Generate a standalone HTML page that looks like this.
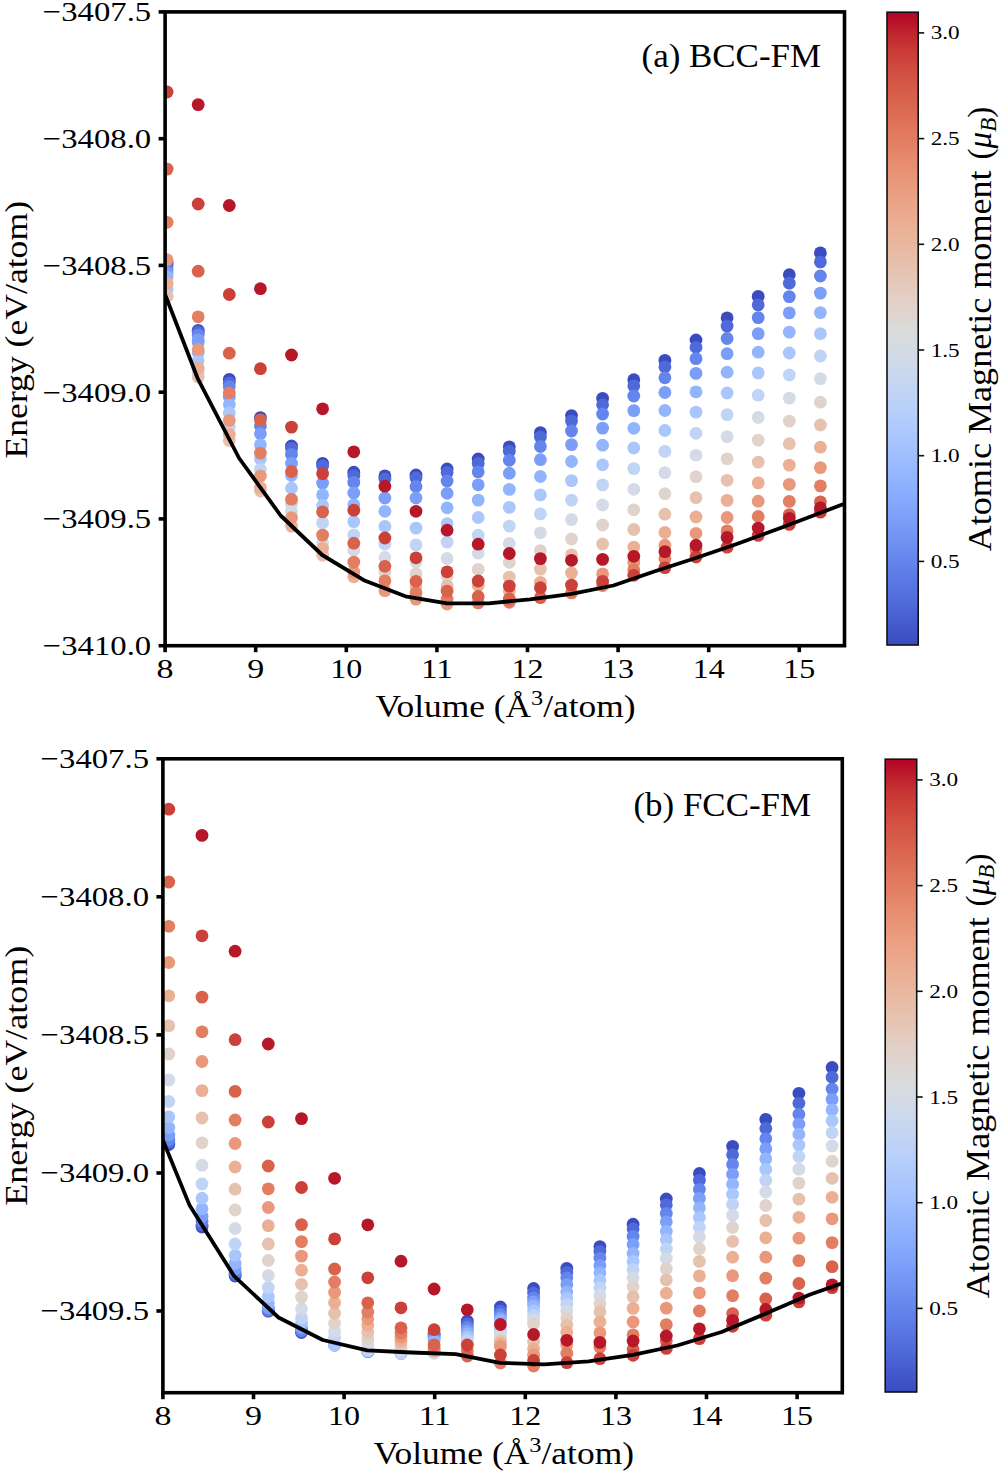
<!DOCTYPE html><html><head><meta charset="utf-8"><style>html,body{margin:0;padding:0;background:#fff;}svg{display:block;}text{font-family:"Liberation Serif", serif;fill:#000;}</style></head><body>
<svg width="1000" height="1472" viewBox="0 0 1000 1472">
<defs><linearGradient id="cw" x1="0" y1="0" x2="0" y2="1"><stop offset="0.0000" stop-color="#b40426"/><stop offset="0.0156" stop-color="#b8122a"/><stop offset="0.0312" stop-color="#be242e"/><stop offset="0.0469" stop-color="#c43032"/><stop offset="0.0625" stop-color="#ca3b37"/><stop offset="0.0781" stop-color="#ce443c"/><stop offset="0.0938" stop-color="#d14d40"/><stop offset="0.1094" stop-color="#d45545"/><stop offset="0.1250" stop-color="#d75c49"/><stop offset="0.1406" stop-color="#d9634e"/><stop offset="0.1562" stop-color="#dc6a53"/><stop offset="0.1719" stop-color="#de7158"/><stop offset="0.1875" stop-color="#e0785d"/><stop offset="0.2031" stop-color="#e27e62"/><stop offset="0.2188" stop-color="#e48468"/><stop offset="0.2344" stop-color="#e68b6e"/><stop offset="0.2500" stop-color="#e89174"/><stop offset="0.2656" stop-color="#e9977a"/><stop offset="0.2812" stop-color="#ea9d7f"/><stop offset="0.2969" stop-color="#eba285"/><stop offset="0.3125" stop-color="#eba78b"/><stop offset="0.3281" stop-color="#ebac91"/><stop offset="0.3438" stop-color="#eab197"/><stop offset="0.3594" stop-color="#e9b59d"/><stop offset="0.3750" stop-color="#e8baa3"/><stop offset="0.3906" stop-color="#e7bea9"/><stop offset="0.4062" stop-color="#e6c2b0"/><stop offset="0.4219" stop-color="#e5c6b7"/><stop offset="0.4375" stop-color="#e4cbbe"/><stop offset="0.4531" stop-color="#e2cfc5"/><stop offset="0.4688" stop-color="#e0d3cb"/><stop offset="0.4844" stop-color="#ddd6d2"/><stop offset="0.5000" stop-color="#dadad9"/><stop offset="0.5156" stop-color="#d8dbdf"/><stop offset="0.5312" stop-color="#d5dbe5"/><stop offset="0.5469" stop-color="#d1dae9"/><stop offset="0.5625" stop-color="#ccd9ed"/><stop offset="0.5781" stop-color="#c7d7f0"/><stop offset="0.5938" stop-color="#c3d5f4"/><stop offset="0.6094" stop-color="#bed2f6"/><stop offset="0.6250" stop-color="#b9d0f9"/><stop offset="0.6406" stop-color="#b3cdfb"/><stop offset="0.6562" stop-color="#aec9fc"/><stop offset="0.6719" stop-color="#a9c6fd"/><stop offset="0.6875" stop-color="#a3c2fe"/><stop offset="0.7031" stop-color="#9ebeff"/><stop offset="0.7188" stop-color="#98b9ff"/><stop offset="0.7344" stop-color="#93b5fe"/><stop offset="0.7500" stop-color="#8db0fe"/><stop offset="0.7656" stop-color="#88abfd"/><stop offset="0.7812" stop-color="#82a6fb"/><stop offset="0.7969" stop-color="#7da0f9"/><stop offset="0.8125" stop-color="#779af7"/><stop offset="0.8281" stop-color="#7295f4"/><stop offset="0.8438" stop-color="#6c8ff1"/><stop offset="0.8594" stop-color="#6788ee"/><stop offset="0.8750" stop-color="#6282ea"/><stop offset="0.8906" stop-color="#5d7ce6"/><stop offset="0.9062" stop-color="#5875e1"/><stop offset="0.9219" stop-color="#536edd"/><stop offset="0.9375" stop-color="#4e68d8"/><stop offset="0.9531" stop-color="#4961d2"/><stop offset="0.9688" stop-color="#445acc"/><stop offset="0.9844" stop-color="#3f53c6"/><stop offset="1.0000" stop-color="#3b4cc0"/></linearGradient></defs>
<rect width="1000" height="1472" fill="#fff"/>
<clipPath id="clipA"><rect x="165.1" y="11.9" width="679.4" height="633.8000000000001"/></clipPath>
<g clip-path="url(#clipA)">
<circle cx="167.1" cy="262.5" r="6.4" fill="#3b4cc0"/>
<circle cx="167.1" cy="265.4" r="6.4" fill="#4f69d9"/>
<circle cx="167.1" cy="269.6" r="6.4" fill="#6485ec"/>
<circle cx="167.1" cy="273.2" r="6.4" fill="#7b9ff9"/>
<circle cx="167.1" cy="276.8" r="6.4" fill="#93b5fe"/>
<circle cx="167.1" cy="289.4" r="6.4" fill="#aac7fd"/>
<circle cx="167.1" cy="296.2" r="6.4" fill="#e5c1ae"/>
<circle cx="167.1" cy="283.4" r="6.4" fill="#ebaf94"/>
<circle cx="167.1" cy="259.7" r="6.4" fill="#e9987b"/>
<circle cx="167.1" cy="222.3" r="6.4" fill="#e27e62"/>
<circle cx="167.1" cy="169.1" r="6.4" fill="#d9624d"/>
<circle cx="167.1" cy="92.0" r="6.4" fill="#cc403a"/>
<circle cx="198.2" cy="330.3" r="6.4" fill="#3b4cc0"/>
<circle cx="198.2" cy="332.0" r="6.4" fill="#4f69d9"/>
<circle cx="198.2" cy="335.0" r="6.4" fill="#6485ec"/>
<circle cx="198.2" cy="339.8" r="6.4" fill="#7b9ff9"/>
<circle cx="198.2" cy="342.2" r="6.4" fill="#7b9ff9"/>
<circle cx="198.2" cy="352.4" r="6.4" fill="#93b5fe"/>
<circle cx="198.2" cy="360.8" r="6.4" fill="#aac7fd"/>
<circle cx="198.2" cy="371.6" r="6.4" fill="#c0d4f5"/>
<circle cx="198.2" cy="377.0" r="6.4" fill="#e5c1ae"/>
<circle cx="198.2" cy="368.3" r="6.4" fill="#ebaf94"/>
<circle cx="198.2" cy="349.5" r="6.4" fill="#e9987b"/>
<circle cx="198.2" cy="316.8" r="6.4" fill="#e27e62"/>
<circle cx="198.2" cy="271.2" r="6.4" fill="#d9624d"/>
<circle cx="198.2" cy="204.0" r="6.4" fill="#cc403a"/>
<circle cx="198.2" cy="104.6" r="6.4" fill="#b6182a"/>
<circle cx="229.3" cy="379.4" r="6.4" fill="#3b4cc0"/>
<circle cx="229.3" cy="383.0" r="6.4" fill="#4f69d9"/>
<circle cx="229.3" cy="386.7" r="6.4" fill="#6485ec"/>
<circle cx="229.3" cy="397.0" r="6.4" fill="#7b9ff9"/>
<circle cx="229.3" cy="404.5" r="6.4" fill="#93b5fe"/>
<circle cx="229.3" cy="413.0" r="6.4" fill="#aac7fd"/>
<circle cx="229.3" cy="427.0" r="6.4" fill="#c0d4f5"/>
<circle cx="229.3" cy="440.5" r="6.4" fill="#e5c1ae"/>
<circle cx="229.3" cy="434.4" r="6.4" fill="#ebaf94"/>
<circle cx="229.3" cy="420.4" r="6.4" fill="#e9987b"/>
<circle cx="229.3" cy="392.8" r="6.4" fill="#e27e62"/>
<circle cx="229.3" cy="353.2" r="6.4" fill="#d9624d"/>
<circle cx="229.3" cy="294.5" r="6.4" fill="#cc403a"/>
<circle cx="229.3" cy="205.5" r="6.4" fill="#b6182a"/>
<circle cx="260.4" cy="417.6" r="6.4" fill="#3b4cc0"/>
<circle cx="260.4" cy="425.9" r="6.4" fill="#6485ec"/>
<circle cx="260.4" cy="433.8" r="6.4" fill="#7b9ff9"/>
<circle cx="260.4" cy="444.8" r="6.4" fill="#93b5fe"/>
<circle cx="260.4" cy="458.9" r="6.4" fill="#aac7fd"/>
<circle cx="260.4" cy="469.3" r="6.4" fill="#c0d4f5"/>
<circle cx="260.4" cy="491.0" r="6.4" fill="#e5c1ae"/>
<circle cx="260.4" cy="487.6" r="6.4" fill="#ebaf94"/>
<circle cx="260.4" cy="476.0" r="6.4" fill="#e9987b"/>
<circle cx="260.4" cy="453.1" r="6.4" fill="#e27e62"/>
<circle cx="260.4" cy="419.9" r="6.4" fill="#d9624d"/>
<circle cx="260.4" cy="368.7" r="6.4" fill="#cc403a"/>
<circle cx="260.4" cy="288.7" r="6.4" fill="#b6182a"/>
<circle cx="291.5" cy="446.0" r="6.4" fill="#3b4cc0"/>
<circle cx="291.5" cy="448.5" r="6.4" fill="#4f69d9"/>
<circle cx="291.5" cy="454.4" r="6.4" fill="#6485ec"/>
<circle cx="291.5" cy="463.3" r="6.4" fill="#7b9ff9"/>
<circle cx="291.5" cy="475.5" r="6.4" fill="#93b5fe"/>
<circle cx="291.5" cy="488.2" r="6.4" fill="#aac7fd"/>
<circle cx="291.5" cy="503.5" r="6.4" fill="#c0d4f5"/>
<circle cx="291.5" cy="511.4" r="6.4" fill="#d4dbe6"/>
<circle cx="291.5" cy="526.1" r="6.4" fill="#ebaf94"/>
<circle cx="291.5" cy="517.6" r="6.4" fill="#e9987b"/>
<circle cx="291.5" cy="499.2" r="6.4" fill="#e27e62"/>
<circle cx="291.5" cy="471.5" r="6.4" fill="#d9624d"/>
<circle cx="291.5" cy="427.1" r="6.4" fill="#cc403a"/>
<circle cx="291.5" cy="355.0" r="6.4" fill="#b6182a"/>
<circle cx="322.6" cy="463.4" r="6.4" fill="#3b4cc0"/>
<circle cx="322.6" cy="466.0" r="6.4" fill="#4f69d9"/>
<circle cx="322.6" cy="483.1" r="6.4" fill="#7b9ff9"/>
<circle cx="322.6" cy="494.9" r="6.4" fill="#93b5fe"/>
<circle cx="322.6" cy="505.5" r="6.4" fill="#aac7fd"/>
<circle cx="322.6" cy="522.9" r="6.4" fill="#c0d4f5"/>
<circle cx="322.6" cy="542.9" r="6.4" fill="#d4dbe6"/>
<circle cx="322.6" cy="555.1" r="6.4" fill="#e5c1ae"/>
<circle cx="322.6" cy="548.3" r="6.4" fill="#ebaf94"/>
<circle cx="322.6" cy="535.1" r="6.4" fill="#e27e62"/>
<circle cx="322.6" cy="511.9" r="6.4" fill="#d9624d"/>
<circle cx="322.6" cy="473.6" r="6.4" fill="#cc403a"/>
<circle cx="322.6" cy="408.8" r="6.4" fill="#b6182a"/>
<circle cx="353.8" cy="472.2" r="6.4" fill="#3b4cc0"/>
<circle cx="353.8" cy="475.6" r="6.4" fill="#4f69d9"/>
<circle cx="353.8" cy="482.4" r="6.4" fill="#6485ec"/>
<circle cx="353.8" cy="493.0" r="6.4" fill="#7b9ff9"/>
<circle cx="353.8" cy="504.8" r="6.4" fill="#93b5fe"/>
<circle cx="353.8" cy="521.6" r="6.4" fill="#aac7fd"/>
<circle cx="353.8" cy="535.0" r="6.4" fill="#c0d4f5"/>
<circle cx="353.8" cy="550.2" r="6.4" fill="#d4dbe6"/>
<circle cx="353.8" cy="576.8" r="6.4" fill="#ebaf94"/>
<circle cx="353.8" cy="572.0" r="6.4" fill="#e9987b"/>
<circle cx="353.8" cy="562.1" r="6.4" fill="#e27e62"/>
<circle cx="353.8" cy="543.2" r="6.4" fill="#d9624d"/>
<circle cx="353.8" cy="510.2" r="6.4" fill="#cc403a"/>
<circle cx="353.8" cy="451.8" r="6.4" fill="#b6182a"/>
<circle cx="384.9" cy="475.9" r="6.4" fill="#3b4cc0"/>
<circle cx="384.9" cy="479.0" r="6.4" fill="#4f69d9"/>
<circle cx="384.9" cy="498.0" r="6.4" fill="#7b9ff9"/>
<circle cx="384.9" cy="511.3" r="6.4" fill="#93b5fe"/>
<circle cx="384.9" cy="526.4" r="6.4" fill="#aac7fd"/>
<circle cx="384.9" cy="544.0" r="6.4" fill="#c0d4f5"/>
<circle cx="384.9" cy="557.5" r="6.4" fill="#d4dbe6"/>
<circle cx="384.9" cy="572.0" r="6.4" fill="#e0d3cb"/>
<circle cx="384.9" cy="590.7" r="6.4" fill="#e9987b"/>
<circle cx="384.9" cy="580.9" r="6.4" fill="#e27e62"/>
<circle cx="384.9" cy="566.3" r="6.4" fill="#d9624d"/>
<circle cx="384.9" cy="538.0" r="6.4" fill="#cc403a"/>
<circle cx="384.9" cy="486.2" r="6.4" fill="#b6182a"/>
<circle cx="416.0" cy="475.0" r="6.4" fill="#3b4cc0"/>
<circle cx="416.0" cy="478.0" r="6.4" fill="#4f69d9"/>
<circle cx="416.0" cy="486.5" r="6.4" fill="#6485ec"/>
<circle cx="416.0" cy="498.0" r="6.4" fill="#7b9ff9"/>
<circle cx="416.0" cy="528.1" r="6.4" fill="#aac7fd"/>
<circle cx="416.0" cy="544.9" r="6.4" fill="#c0d4f5"/>
<circle cx="416.0" cy="562.0" r="6.4" fill="#d4dbe6"/>
<circle cx="416.0" cy="573.9" r="6.4" fill="#e0d3cb"/>
<circle cx="416.0" cy="587.2" r="6.4" fill="#e5c1ae"/>
<circle cx="416.0" cy="599.1" r="6.4" fill="#e9987b"/>
<circle cx="416.0" cy="592.8" r="6.4" fill="#e27e62"/>
<circle cx="416.0" cy="581.3" r="6.4" fill="#d9624d"/>
<circle cx="416.0" cy="557.8" r="6.4" fill="#cc403a"/>
<circle cx="416.0" cy="511.3" r="6.4" fill="#b6182a"/>
<circle cx="447.1" cy="469.0" r="6.4" fill="#3b4cc0"/>
<circle cx="447.1" cy="472.5" r="6.4" fill="#4f69d9"/>
<circle cx="447.1" cy="481.0" r="6.4" fill="#6485ec"/>
<circle cx="447.1" cy="493.3" r="6.4" fill="#7b9ff9"/>
<circle cx="447.1" cy="507.8" r="6.4" fill="#93b5fe"/>
<circle cx="447.1" cy="523.6" r="6.4" fill="#aac7fd"/>
<circle cx="447.1" cy="542.1" r="6.4" fill="#c0d4f5"/>
<circle cx="447.1" cy="558.5" r="6.4" fill="#d4dbe6"/>
<circle cx="447.1" cy="576.0" r="6.4" fill="#e0d3cb"/>
<circle cx="447.1" cy="585.8" r="6.4" fill="#e5c1ae"/>
<circle cx="447.1" cy="604.0" r="6.4" fill="#e9987b"/>
<circle cx="447.1" cy="599.1" r="6.4" fill="#e27e62"/>
<circle cx="447.1" cy="591.1" r="6.4" fill="#d9624d"/>
<circle cx="447.1" cy="571.8" r="6.4" fill="#cc403a"/>
<circle cx="447.1" cy="530.2" r="6.4" fill="#b6182a"/>
<circle cx="478.2" cy="459.0" r="6.4" fill="#3b4cc0"/>
<circle cx="478.2" cy="463.5" r="6.4" fill="#4f69d9"/>
<circle cx="478.2" cy="471.9" r="6.4" fill="#6485ec"/>
<circle cx="478.2" cy="484.8" r="6.4" fill="#7b9ff9"/>
<circle cx="478.2" cy="500.1" r="6.4" fill="#93b5fe"/>
<circle cx="478.2" cy="517.5" r="6.4" fill="#aac7fd"/>
<circle cx="478.2" cy="535.2" r="6.4" fill="#c0d4f5"/>
<circle cx="478.2" cy="553.2" r="6.4" fill="#d4dbe6"/>
<circle cx="478.2" cy="569.4" r="6.4" fill="#e0d3cb"/>
<circle cx="478.2" cy="585.5" r="6.4" fill="#ebaf94"/>
<circle cx="478.2" cy="602.9" r="6.4" fill="#e27e62"/>
<circle cx="478.2" cy="596.5" r="6.4" fill="#d9624d"/>
<circle cx="478.2" cy="581.0" r="6.4" fill="#cc403a"/>
<circle cx="478.2" cy="544.2" r="6.4" fill="#b6182a"/>
<circle cx="509.3" cy="446.8" r="6.4" fill="#3b4cc0"/>
<circle cx="509.3" cy="451.3" r="6.4" fill="#4f69d9"/>
<circle cx="509.3" cy="460.3" r="6.4" fill="#6485ec"/>
<circle cx="509.3" cy="473.2" r="6.4" fill="#7b9ff9"/>
<circle cx="509.3" cy="489.4" r="6.4" fill="#93b5fe"/>
<circle cx="509.3" cy="507.4" r="6.4" fill="#aac7fd"/>
<circle cx="509.3" cy="526.1" r="6.4" fill="#c0d4f5"/>
<circle cx="509.3" cy="543.5" r="6.4" fill="#d4dbe6"/>
<circle cx="509.3" cy="562.3" r="6.4" fill="#e0d3cb"/>
<circle cx="509.3" cy="577.1" r="6.4" fill="#e5c1ae"/>
<circle cx="509.3" cy="591.3" r="6.4" fill="#ebaf94"/>
<circle cx="509.3" cy="602.3" r="6.4" fill="#e27e62"/>
<circle cx="509.3" cy="599.0" r="6.4" fill="#d9624d"/>
<circle cx="509.3" cy="586.1" r="6.4" fill="#cc403a"/>
<circle cx="509.3" cy="553.5" r="6.4" fill="#b6182a"/>
<circle cx="540.4" cy="432.6" r="6.4" fill="#3b4cc0"/>
<circle cx="540.4" cy="437.1" r="6.4" fill="#4f69d9"/>
<circle cx="540.4" cy="446.5" r="6.4" fill="#6485ec"/>
<circle cx="540.4" cy="459.7" r="6.4" fill="#7b9ff9"/>
<circle cx="540.4" cy="476.5" r="6.4" fill="#93b5fe"/>
<circle cx="540.4" cy="494.9" r="6.4" fill="#aac7fd"/>
<circle cx="540.4" cy="513.9" r="6.4" fill="#c0d4f5"/>
<circle cx="540.4" cy="532.8" r="6.4" fill="#d4dbe6"/>
<circle cx="540.4" cy="550.6" r="6.4" fill="#e0d3cb"/>
<circle cx="540.4" cy="569.1" r="6.4" fill="#e5c1ae"/>
<circle cx="540.4" cy="582.3" r="6.4" fill="#ebaf94"/>
<circle cx="540.4" cy="597.7" r="6.4" fill="#d9624d"/>
<circle cx="540.4" cy="587.7" r="6.4" fill="#cc403a"/>
<circle cx="540.4" cy="558.6" r="6.4" fill="#b6182a"/>
<circle cx="571.5" cy="415.6" r="6.4" fill="#3b4cc0"/>
<circle cx="571.5" cy="421.1" r="6.4" fill="#4f69d9"/>
<circle cx="571.5" cy="431.0" r="6.4" fill="#6485ec"/>
<circle cx="571.5" cy="444.6" r="6.4" fill="#7b9ff9"/>
<circle cx="571.5" cy="461.5" r="6.4" fill="#93b5fe"/>
<circle cx="571.5" cy="480.6" r="6.4" fill="#aac7fd"/>
<circle cx="571.5" cy="500.1" r="6.4" fill="#c0d4f5"/>
<circle cx="571.5" cy="519.6" r="6.4" fill="#d4dbe6"/>
<circle cx="571.5" cy="539.0" r="6.4" fill="#e0d3cb"/>
<circle cx="571.5" cy="554.9" r="6.4" fill="#e5c1ae"/>
<circle cx="571.5" cy="573.0" r="6.4" fill="#ebaf94"/>
<circle cx="571.5" cy="592.9" r="6.4" fill="#e27e62"/>
<circle cx="571.5" cy="585.1" r="6.4" fill="#cc403a"/>
<circle cx="571.5" cy="560.3" r="6.4" fill="#b6182a"/>
<circle cx="602.6" cy="398.4" r="6.4" fill="#3b4cc0"/>
<circle cx="602.6" cy="404.8" r="6.4" fill="#4f69d9"/>
<circle cx="602.6" cy="414.0" r="6.4" fill="#6485ec"/>
<circle cx="602.6" cy="428.1" r="6.4" fill="#7b9ff9"/>
<circle cx="602.6" cy="445.2" r="6.4" fill="#93b5fe"/>
<circle cx="602.6" cy="464.8" r="6.4" fill="#aac7fd"/>
<circle cx="602.6" cy="484.9" r="6.4" fill="#c0d4f5"/>
<circle cx="602.6" cy="505.0" r="6.4" fill="#d4dbe6"/>
<circle cx="602.6" cy="525.0" r="6.4" fill="#e0d3cb"/>
<circle cx="602.6" cy="544.0" r="6.4" fill="#e5c1ae"/>
<circle cx="602.6" cy="573.9" r="6.4" fill="#e9987b"/>
<circle cx="602.6" cy="585.5" r="6.4" fill="#e27e62"/>
<circle cx="602.6" cy="581.4" r="6.4" fill="#cc403a"/>
<circle cx="602.6" cy="559.4" r="6.4" fill="#b6182a"/>
<circle cx="633.8" cy="379.7" r="6.4" fill="#3b4cc0"/>
<circle cx="633.8" cy="385.9" r="6.4" fill="#4f69d9"/>
<circle cx="633.8" cy="396.0" r="6.4" fill="#6485ec"/>
<circle cx="633.8" cy="410.6" r="6.4" fill="#7b9ff9"/>
<circle cx="633.8" cy="428.3" r="6.4" fill="#93b5fe"/>
<circle cx="633.8" cy="448.0" r="6.4" fill="#aac7fd"/>
<circle cx="633.8" cy="468.6" r="6.4" fill="#c0d4f5"/>
<circle cx="633.8" cy="489.3" r="6.4" fill="#d4dbe6"/>
<circle cx="633.8" cy="509.8" r="6.4" fill="#e0d3cb"/>
<circle cx="633.8" cy="529.5" r="6.4" fill="#e5c1ae"/>
<circle cx="633.8" cy="547.1" r="6.4" fill="#ebaf94"/>
<circle cx="633.8" cy="562.4" r="6.4" fill="#e9987b"/>
<circle cx="633.8" cy="569.8" r="6.4" fill="#e27e62"/>
<circle cx="633.8" cy="575.3" r="6.4" fill="#cc403a"/>
<circle cx="633.8" cy="556.3" r="6.4" fill="#b6182a"/>
<circle cx="664.9" cy="360.4" r="6.4" fill="#3b4cc0"/>
<circle cx="664.9" cy="366.9" r="6.4" fill="#4f69d9"/>
<circle cx="664.9" cy="377.8" r="6.4" fill="#6485ec"/>
<circle cx="664.9" cy="392.5" r="6.4" fill="#7b9ff9"/>
<circle cx="664.9" cy="410.5" r="6.4" fill="#93b5fe"/>
<circle cx="664.9" cy="430.5" r="6.4" fill="#aac7fd"/>
<circle cx="664.9" cy="451.4" r="6.4" fill="#c0d4f5"/>
<circle cx="664.9" cy="472.6" r="6.4" fill="#d4dbe6"/>
<circle cx="664.9" cy="493.7" r="6.4" fill="#e0d3cb"/>
<circle cx="664.9" cy="514.2" r="6.4" fill="#e5c1ae"/>
<circle cx="664.9" cy="532.5" r="6.4" fill="#ebaf94"/>
<circle cx="664.9" cy="545.2" r="6.4" fill="#e9987b"/>
<circle cx="664.9" cy="558.6" r="6.4" fill="#e27e62"/>
<circle cx="664.9" cy="567.6" r="6.4" fill="#cc403a"/>
<circle cx="664.9" cy="551.6" r="6.4" fill="#b6182a"/>
<circle cx="696.0" cy="340.0" r="6.4" fill="#3b4cc0"/>
<circle cx="696.0" cy="347.3" r="6.4" fill="#4f69d9"/>
<circle cx="696.0" cy="358.6" r="6.4" fill="#6485ec"/>
<circle cx="696.0" cy="373.4" r="6.4" fill="#7b9ff9"/>
<circle cx="696.0" cy="391.9" r="6.4" fill="#93b5fe"/>
<circle cx="696.0" cy="412.1" r="6.4" fill="#aac7fd"/>
<circle cx="696.0" cy="433.3" r="6.4" fill="#c0d4f5"/>
<circle cx="696.0" cy="455.3" r="6.4" fill="#d4dbe6"/>
<circle cx="696.0" cy="476.7" r="6.4" fill="#e0d3cb"/>
<circle cx="696.0" cy="497.7" r="6.4" fill="#e5c1ae"/>
<circle cx="696.0" cy="517.0" r="6.4" fill="#ebaf94"/>
<circle cx="696.0" cy="533.3" r="6.4" fill="#e9987b"/>
<circle cx="696.0" cy="550.0" r="6.4" fill="#e27e62"/>
<circle cx="696.0" cy="557.0" r="6.4" fill="#cc403a"/>
<circle cx="696.0" cy="545.2" r="6.4" fill="#b6182a"/>
<circle cx="727.1" cy="317.9" r="6.4" fill="#3b4cc0"/>
<circle cx="727.1" cy="326.1" r="6.4" fill="#4f69d9"/>
<circle cx="727.1" cy="338.5" r="6.4" fill="#6485ec"/>
<circle cx="727.1" cy="353.7" r="6.4" fill="#7b9ff9"/>
<circle cx="727.1" cy="372.2" r="6.4" fill="#93b5fe"/>
<circle cx="727.1" cy="393.0" r="6.4" fill="#aac7fd"/>
<circle cx="727.1" cy="414.6" r="6.4" fill="#c0d4f5"/>
<circle cx="727.1" cy="436.7" r="6.4" fill="#d4dbe6"/>
<circle cx="727.1" cy="458.8" r="6.4" fill="#e0d3cb"/>
<circle cx="727.1" cy="480.3" r="6.4" fill="#e5c1ae"/>
<circle cx="727.1" cy="500.4" r="6.4" fill="#ebaf94"/>
<circle cx="727.1" cy="517.5" r="6.4" fill="#e9987b"/>
<circle cx="727.1" cy="530.9" r="6.4" fill="#e27e62"/>
<circle cx="727.1" cy="547.2" r="6.4" fill="#cc403a"/>
<circle cx="727.1" cy="537.4" r="6.4" fill="#b6182a"/>
<circle cx="758.2" cy="296.4" r="6.4" fill="#3b4cc0"/>
<circle cx="758.2" cy="304.9" r="6.4" fill="#4f69d9"/>
<circle cx="758.2" cy="317.6" r="6.4" fill="#6485ec"/>
<circle cx="758.2" cy="333.6" r="6.4" fill="#7b9ff9"/>
<circle cx="758.2" cy="352.2" r="6.4" fill="#93b5fe"/>
<circle cx="758.2" cy="372.9" r="6.4" fill="#aac7fd"/>
<circle cx="758.2" cy="395.2" r="6.4" fill="#c0d4f5"/>
<circle cx="758.2" cy="417.5" r="6.4" fill="#d4dbe6"/>
<circle cx="758.2" cy="440.1" r="6.4" fill="#e0d3cb"/>
<circle cx="758.2" cy="462.1" r="6.4" fill="#e5c1ae"/>
<circle cx="758.2" cy="482.9" r="6.4" fill="#ebaf94"/>
<circle cx="758.2" cy="501.2" r="6.4" fill="#e9987b"/>
<circle cx="758.2" cy="516.5" r="6.4" fill="#e27e62"/>
<circle cx="758.2" cy="535.4" r="6.4" fill="#cc403a"/>
<circle cx="758.2" cy="528.1" r="6.4" fill="#b6182a"/>
<circle cx="789.3" cy="274.7" r="6.4" fill="#3b4cc0"/>
<circle cx="789.3" cy="283.2" r="6.4" fill="#4f69d9"/>
<circle cx="789.3" cy="296.6" r="6.4" fill="#6485ec"/>
<circle cx="789.3" cy="312.9" r="6.4" fill="#7b9ff9"/>
<circle cx="789.3" cy="332.1" r="6.4" fill="#93b5fe"/>
<circle cx="789.3" cy="353.0" r="6.4" fill="#aac7fd"/>
<circle cx="789.3" cy="375.0" r="6.4" fill="#c0d4f5"/>
<circle cx="789.3" cy="398.1" r="6.4" fill="#d4dbe6"/>
<circle cx="789.3" cy="421.1" r="6.4" fill="#e0d3cb"/>
<circle cx="789.3" cy="443.7" r="6.4" fill="#e5c1ae"/>
<circle cx="789.3" cy="465.1" r="6.4" fill="#ebaf94"/>
<circle cx="789.3" cy="484.4" r="6.4" fill="#e9987b"/>
<circle cx="789.3" cy="501.4" r="6.4" fill="#e27e62"/>
<circle cx="789.3" cy="514.6" r="6.4" fill="#d9624d"/>
<circle cx="789.3" cy="524.4" r="6.4" fill="#cc403a"/>
<circle cx="789.3" cy="518.3" r="6.4" fill="#b6182a"/>
<circle cx="820.4" cy="252.9" r="6.4" fill="#3b4cc0"/>
<circle cx="820.4" cy="261.9" r="6.4" fill="#4f69d9"/>
<circle cx="820.4" cy="276.0" r="6.4" fill="#6485ec"/>
<circle cx="820.4" cy="293.1" r="6.4" fill="#7b9ff9"/>
<circle cx="820.4" cy="312.6" r="6.4" fill="#93b5fe"/>
<circle cx="820.4" cy="333.7" r="6.4" fill="#aac7fd"/>
<circle cx="820.4" cy="356.0" r="6.4" fill="#c0d4f5"/>
<circle cx="820.4" cy="378.6" r="6.4" fill="#d4dbe6"/>
<circle cx="820.4" cy="402.2" r="6.4" fill="#e0d3cb"/>
<circle cx="820.4" cy="425.0" r="6.4" fill="#e5c1ae"/>
<circle cx="820.4" cy="447.2" r="6.4" fill="#ebaf94"/>
<circle cx="820.4" cy="467.6" r="6.4" fill="#e9987b"/>
<circle cx="820.4" cy="485.9" r="6.4" fill="#e27e62"/>
<circle cx="820.4" cy="501.8" r="6.4" fill="#d9624d"/>
<circle cx="820.4" cy="512.2" r="6.4" fill="#cc403a"/>
<circle cx="820.4" cy="507.9" r="6.4" fill="#b6182a"/>
<polyline points="155.9,270.8 197.4,377.8 239.0,458.0 280.6,515.5 322.2,555.0 363.8,580.2 405.4,596.3 447.0,603.3 488.6,603.3 530.2,599.3 571.8,593.8 613.4,585.5 655.0,571.3 696.6,557.8 738.2,543.5 779.8,528.3 821.4,512.5 863.0,496.5" fill="none" stroke="#000" stroke-width="3.8" stroke-linejoin="round" stroke-linecap="butt"/>
</g>
<rect x="165.1" y="11.9" width="679.4" height="633.8000000000001" fill="none" stroke="#000" stroke-width="3.6" stroke-linejoin="miter"/>
<line x1="158.6" y1="11.9" x2="165.1" y2="11.9" stroke="#000" stroke-width="3.6"/>
<text x="151.2" y="21.2" font-size="27.8" text-anchor="end" textLength="108.4" lengthAdjust="spacingAndGlyphs">−3407.5</text>
<line x1="158.6" y1="138.7" x2="165.1" y2="138.7" stroke="#000" stroke-width="3.6"/>
<text x="151.2" y="148.0" font-size="27.8" text-anchor="end" textLength="108.4" lengthAdjust="spacingAndGlyphs">−3408.0</text>
<line x1="158.6" y1="265.4" x2="165.1" y2="265.4" stroke="#000" stroke-width="3.6"/>
<text x="151.2" y="274.7" font-size="27.8" text-anchor="end" textLength="108.4" lengthAdjust="spacingAndGlyphs">−3408.5</text>
<line x1="158.6" y1="392.2" x2="165.1" y2="392.2" stroke="#000" stroke-width="3.6"/>
<text x="151.2" y="401.5" font-size="27.8" text-anchor="end" textLength="108.4" lengthAdjust="spacingAndGlyphs">−3409.0</text>
<line x1="158.6" y1="518.9" x2="165.1" y2="518.9" stroke="#000" stroke-width="3.6"/>
<text x="151.2" y="528.2" font-size="27.8" text-anchor="end" textLength="108.4" lengthAdjust="spacingAndGlyphs">−3409.5</text>
<line x1="158.6" y1="645.7" x2="165.1" y2="645.7" stroke="#000" stroke-width="3.6"/>
<text x="151.2" y="655.0" font-size="27.8" text-anchor="end" textLength="108.4" lengthAdjust="spacingAndGlyphs">−3410.0</text>
<line x1="165.1" y1="645.7" x2="165.1" y2="652.2" stroke="#000" stroke-width="3.6"/>
<text x="165.1" y="677.7" font-size="27.8" text-anchor="middle" textLength="17" lengthAdjust="spacingAndGlyphs">8</text>
<line x1="255.7" y1="645.7" x2="255.7" y2="652.2" stroke="#000" stroke-width="3.6"/>
<text x="255.7" y="677.7" font-size="27.8" text-anchor="middle" textLength="17" lengthAdjust="spacingAndGlyphs">9</text>
<line x1="346.3" y1="645.7" x2="346.3" y2="652.2" stroke="#000" stroke-width="3.6"/>
<text x="346.3" y="677.7" font-size="27.8" text-anchor="middle" textLength="32" lengthAdjust="spacingAndGlyphs">10</text>
<line x1="436.9" y1="645.7" x2="436.9" y2="652.2" stroke="#000" stroke-width="3.6"/>
<text x="436.9" y="677.7" font-size="27.8" text-anchor="middle" textLength="32" lengthAdjust="spacingAndGlyphs">11</text>
<line x1="527.5" y1="645.7" x2="527.5" y2="652.2" stroke="#000" stroke-width="3.6"/>
<text x="527.5" y="677.7" font-size="27.8" text-anchor="middle" textLength="32" lengthAdjust="spacingAndGlyphs">12</text>
<line x1="618.1" y1="645.7" x2="618.1" y2="652.2" stroke="#000" stroke-width="3.6"/>
<text x="618.1" y="677.7" font-size="27.8" text-anchor="middle" textLength="32" lengthAdjust="spacingAndGlyphs">13</text>
<line x1="708.7" y1="645.7" x2="708.7" y2="652.2" stroke="#000" stroke-width="3.6"/>
<text x="708.7" y="677.7" font-size="27.8" text-anchor="middle" textLength="32" lengthAdjust="spacingAndGlyphs">14</text>
<line x1="799.3" y1="645.7" x2="799.3" y2="652.2" stroke="#000" stroke-width="3.6"/>
<text x="799.3" y="677.7" font-size="27.8" text-anchor="middle" textLength="32" lengthAdjust="spacingAndGlyphs">15</text>
<text x="375.5" y="716.7" font-size="32" textLength="260.0" lengthAdjust="spacingAndGlyphs">Volume (Å<tspan font-size="22" dy="-12">3</tspan><tspan dy="12">/atom)</tspan></text>
<text transform="translate(26.9,458.5) rotate(-90)" x="0" y="0" font-size="32" textLength="257.5" lengthAdjust="spacingAndGlyphs">Energy (eV/atom)</text>
<text x="641.5" y="66.6" font-size="34.5" textLength="179.5" lengthAdjust="spacingAndGlyphs">(a) BCC-FM</text>
<rect x="887.0" y="12.2" width="31.200000000000045" height="632.8" fill="url(#cw)" stroke="#111" stroke-width="1.6"/>
<line x1="918.2" y1="32.9" x2="924.2" y2="32.9" stroke="#111" stroke-width="1.6"/>
<text x="930.7" y="39.4" font-size="19.4" textLength="29" lengthAdjust="spacingAndGlyphs">3.0</text>
<line x1="918.2" y1="138.6" x2="924.2" y2="138.6" stroke="#111" stroke-width="1.6"/>
<text x="930.7" y="145.1" font-size="19.4" textLength="29" lengthAdjust="spacingAndGlyphs">2.5</text>
<line x1="918.2" y1="244.3" x2="924.2" y2="244.3" stroke="#111" stroke-width="1.6"/>
<text x="930.7" y="250.8" font-size="19.4" textLength="29" lengthAdjust="spacingAndGlyphs">2.0</text>
<line x1="918.2" y1="350.0" x2="924.2" y2="350.0" stroke="#111" stroke-width="1.6"/>
<text x="930.7" y="356.5" font-size="19.4" textLength="29" lengthAdjust="spacingAndGlyphs">1.5</text>
<line x1="918.2" y1="455.7" x2="924.2" y2="455.7" stroke="#111" stroke-width="1.6"/>
<text x="930.7" y="462.2" font-size="19.4" textLength="29" lengthAdjust="spacingAndGlyphs">1.0</text>
<line x1="918.2" y1="561.4" x2="924.2" y2="561.4" stroke="#111" stroke-width="1.6"/>
<text x="930.7" y="567.9" font-size="19.4" textLength="29" lengthAdjust="spacingAndGlyphs">0.5</text>
<clipPath id="clipB"><rect x="162.9" y="758.8" width="679.4" height="633.9000000000001"/></clipPath>
<g clip-path="url(#clipB)">
<circle cx="168.8" cy="1144.5" r="6.4" fill="#3b4cc0"/>
<circle cx="168.8" cy="1142.5" r="6.4" fill="#4f69d9"/>
<circle cx="168.8" cy="1140.0" r="6.4" fill="#6485ec"/>
<circle cx="168.8" cy="1135.0" r="6.4" fill="#7b9ff9"/>
<circle cx="168.8" cy="1127.5" r="6.4" fill="#93b5fe"/>
<circle cx="168.8" cy="1116.8" r="6.4" fill="#aac7fd"/>
<circle cx="168.8" cy="1101.5" r="6.4" fill="#c0d4f5"/>
<circle cx="168.8" cy="1080.0" r="6.4" fill="#d4dbe6"/>
<circle cx="168.8" cy="1054.0" r="6.4" fill="#e0d3cb"/>
<circle cx="168.8" cy="1025.7" r="6.4" fill="#e5c1ae"/>
<circle cx="168.8" cy="995.8" r="6.4" fill="#ebaf94"/>
<circle cx="168.8" cy="962.5" r="6.4" fill="#e9987b"/>
<circle cx="168.8" cy="926.3" r="6.4" fill="#e27e62"/>
<circle cx="168.8" cy="882.0" r="6.4" fill="#d9624d"/>
<circle cx="168.8" cy="809.2" r="6.4" fill="#cc403a"/>
<circle cx="202.0" cy="1227.0" r="6.4" fill="#3b4cc0"/>
<circle cx="202.0" cy="1224.8" r="6.4" fill="#4f69d9"/>
<circle cx="202.0" cy="1221.3" r="6.4" fill="#6485ec"/>
<circle cx="202.0" cy="1216.3" r="6.4" fill="#7b9ff9"/>
<circle cx="202.0" cy="1208.9" r="6.4" fill="#93b5fe"/>
<circle cx="202.0" cy="1198.2" r="6.4" fill="#aac7fd"/>
<circle cx="202.0" cy="1184.0" r="6.4" fill="#c0d4f5"/>
<circle cx="202.0" cy="1165.2" r="6.4" fill="#d4dbe6"/>
<circle cx="202.0" cy="1142.8" r="6.4" fill="#e0d3cb"/>
<circle cx="202.0" cy="1118.0" r="6.4" fill="#e5c1ae"/>
<circle cx="202.0" cy="1090.6" r="6.4" fill="#ebaf94"/>
<circle cx="202.0" cy="1061.5" r="6.4" fill="#e9987b"/>
<circle cx="202.0" cy="1031.8" r="6.4" fill="#e27e62"/>
<circle cx="202.0" cy="997.1" r="6.4" fill="#d9624d"/>
<circle cx="202.0" cy="935.8" r="6.4" fill="#cc403a"/>
<circle cx="202.0" cy="835.4" r="6.4" fill="#b6182a"/>
<circle cx="235.1" cy="1276.0" r="6.4" fill="#3b4cc0"/>
<circle cx="235.1" cy="1274.5" r="6.4" fill="#4f69d9"/>
<circle cx="235.1" cy="1272.5" r="6.4" fill="#6485ec"/>
<circle cx="235.1" cy="1268.7" r="6.4" fill="#7b9ff9"/>
<circle cx="235.1" cy="1263.5" r="6.4" fill="#93b5fe"/>
<circle cx="235.1" cy="1255.2" r="6.4" fill="#aac7fd"/>
<circle cx="235.1" cy="1244.0" r="6.4" fill="#c0d4f5"/>
<circle cx="235.1" cy="1228.5" r="6.4" fill="#d4dbe6"/>
<circle cx="235.1" cy="1210.0" r="6.4" fill="#e0d3cb"/>
<circle cx="235.1" cy="1189.2" r="6.4" fill="#e5c1ae"/>
<circle cx="235.1" cy="1167.0" r="6.4" fill="#ebaf94"/>
<circle cx="235.1" cy="1143.5" r="6.4" fill="#e9987b"/>
<circle cx="235.1" cy="1120.0" r="6.4" fill="#e27e62"/>
<circle cx="235.1" cy="1091.4" r="6.4" fill="#d9624d"/>
<circle cx="235.1" cy="1039.7" r="6.4" fill="#cc403a"/>
<circle cx="235.1" cy="951.2" r="6.4" fill="#b6182a"/>
<circle cx="268.3" cy="1311.2" r="6.4" fill="#3b4cc0"/>
<circle cx="268.3" cy="1310.5" r="6.4" fill="#4f69d9"/>
<circle cx="268.3" cy="1309.5" r="6.4" fill="#6485ec"/>
<circle cx="268.3" cy="1307.5" r="6.4" fill="#7b9ff9"/>
<circle cx="268.3" cy="1303.2" r="6.4" fill="#93b5fe"/>
<circle cx="268.3" cy="1296.5" r="6.4" fill="#aac7fd"/>
<circle cx="268.3" cy="1287.5" r="6.4" fill="#c0d4f5"/>
<circle cx="268.3" cy="1275.5" r="6.4" fill="#d4dbe6"/>
<circle cx="268.3" cy="1260.5" r="6.4" fill="#e0d3cb"/>
<circle cx="268.3" cy="1244.0" r="6.4" fill="#e5c1ae"/>
<circle cx="268.3" cy="1225.7" r="6.4" fill="#ebaf94"/>
<circle cx="268.3" cy="1207.5" r="6.4" fill="#e9987b"/>
<circle cx="268.3" cy="1188.8" r="6.4" fill="#e27e62"/>
<circle cx="268.3" cy="1166.0" r="6.4" fill="#d9624d"/>
<circle cx="268.3" cy="1122.0" r="6.4" fill="#cc403a"/>
<circle cx="268.3" cy="1044.0" r="6.4" fill="#b6182a"/>
<circle cx="301.5" cy="1332.5" r="6.4" fill="#3b4cc0"/>
<circle cx="301.5" cy="1331.5" r="6.4" fill="#4f69d9"/>
<circle cx="301.5" cy="1330.5" r="6.4" fill="#6485ec"/>
<circle cx="301.5" cy="1327.6" r="6.4" fill="#7b9ff9"/>
<circle cx="301.5" cy="1323.2" r="6.4" fill="#aac7fd"/>
<circle cx="301.5" cy="1317.9" r="6.4" fill="#c0d4f5"/>
<circle cx="301.5" cy="1308.7" r="6.4" fill="#d4dbe6"/>
<circle cx="301.5" cy="1297.1" r="6.4" fill="#e0d3cb"/>
<circle cx="301.5" cy="1284.3" r="6.4" fill="#e5c1ae"/>
<circle cx="301.5" cy="1270.2" r="6.4" fill="#ebaf94"/>
<circle cx="301.5" cy="1256.1" r="6.4" fill="#e9987b"/>
<circle cx="301.5" cy="1241.6" r="6.4" fill="#e27e62"/>
<circle cx="301.5" cy="1224.6" r="6.4" fill="#d9624d"/>
<circle cx="301.5" cy="1187.5" r="6.4" fill="#cc403a"/>
<circle cx="301.5" cy="1118.6" r="6.4" fill="#b6182a"/>
<circle cx="334.6" cy="1345.0" r="6.4" fill="#4f69d9"/>
<circle cx="334.6" cy="1345.0" r="6.4" fill="#6485ec"/>
<circle cx="334.6" cy="1345.0" r="6.4" fill="#93b5fe"/>
<circle cx="334.6" cy="1345.0" r="6.4" fill="#aac7fd"/>
<circle cx="334.6" cy="1337.6" r="6.4" fill="#c0d4f5"/>
<circle cx="334.6" cy="1331.6" r="6.4" fill="#d4dbe6"/>
<circle cx="334.6" cy="1323.2" r="6.4" fill="#e0d3cb"/>
<circle cx="334.6" cy="1313.2" r="6.4" fill="#e5c1ae"/>
<circle cx="334.6" cy="1302.8" r="6.4" fill="#ebaf94"/>
<circle cx="334.6" cy="1292.4" r="6.4" fill="#e9987b"/>
<circle cx="334.6" cy="1282.0" r="6.4" fill="#e27e62"/>
<circle cx="334.6" cy="1269.0" r="6.4" fill="#d9624d"/>
<circle cx="334.6" cy="1238.9" r="6.4" fill="#cc403a"/>
<circle cx="334.6" cy="1178.3" r="6.4" fill="#b6182a"/>
<circle cx="367.8" cy="1351.5" r="6.4" fill="#3b4cc0"/>
<circle cx="367.8" cy="1351.5" r="6.4" fill="#6485ec"/>
<circle cx="367.8" cy="1351.0" r="6.4" fill="#aac7fd"/>
<circle cx="367.8" cy="1350.4" r="6.4" fill="#c0d4f5"/>
<circle cx="367.8" cy="1344.8" r="6.4" fill="#d4dbe6"/>
<circle cx="367.8" cy="1339.2" r="6.4" fill="#e0d3cb"/>
<circle cx="367.8" cy="1332.4" r="6.4" fill="#e5c1ae"/>
<circle cx="367.8" cy="1325.2" r="6.4" fill="#ebaf94"/>
<circle cx="367.8" cy="1318.8" r="6.4" fill="#e9987b"/>
<circle cx="367.8" cy="1312.0" r="6.4" fill="#e27e62"/>
<circle cx="367.8" cy="1302.8" r="6.4" fill="#d9624d"/>
<circle cx="367.8" cy="1277.8" r="6.4" fill="#cc403a"/>
<circle cx="367.8" cy="1224.8" r="6.4" fill="#b6182a"/>
<circle cx="401.0" cy="1353.5" r="6.4" fill="#6485ec"/>
<circle cx="401.0" cy="1353.5" r="6.4" fill="#aac7fd"/>
<circle cx="401.0" cy="1353.0" r="6.4" fill="#c0d4f5"/>
<circle cx="401.0" cy="1350.0" r="6.4" fill="#d4dbe6"/>
<circle cx="401.0" cy="1346.5" r="6.4" fill="#e0d3cb"/>
<circle cx="401.0" cy="1343.5" r="6.4" fill="#e5c1ae"/>
<circle cx="401.0" cy="1340.5" r="6.4" fill="#ebaf94"/>
<circle cx="401.0" cy="1337.0" r="6.4" fill="#e9987b"/>
<circle cx="401.0" cy="1333.0" r="6.4" fill="#e27e62"/>
<circle cx="401.0" cy="1327.8" r="6.4" fill="#d9624d"/>
<circle cx="401.0" cy="1307.8" r="6.4" fill="#cc403a"/>
<circle cx="401.0" cy="1261.2" r="6.4" fill="#b6182a"/>
<circle cx="434.1" cy="1333.5" r="6.4" fill="#3b4cc0"/>
<circle cx="434.1" cy="1335.0" r="6.4" fill="#4f69d9"/>
<circle cx="434.1" cy="1337.0" r="6.4" fill="#6485ec"/>
<circle cx="434.1" cy="1339.0" r="6.4" fill="#7b9ff9"/>
<circle cx="434.1" cy="1341.0" r="6.4" fill="#93b5fe"/>
<circle cx="434.1" cy="1353.2" r="6.4" fill="#c0d4f5"/>
<circle cx="434.1" cy="1353.0" r="6.4" fill="#d4dbe6"/>
<circle cx="434.1" cy="1352.0" r="6.4" fill="#e0d3cb"/>
<circle cx="434.1" cy="1351.0" r="6.4" fill="#ebaf94"/>
<circle cx="434.1" cy="1349.5" r="6.4" fill="#e9987b"/>
<circle cx="434.1" cy="1347.6" r="6.4" fill="#e27e62"/>
<circle cx="434.1" cy="1344.8" r="6.4" fill="#d9624d"/>
<circle cx="434.1" cy="1329.7" r="6.4" fill="#cc403a"/>
<circle cx="434.1" cy="1289.0" r="6.4" fill="#b6182a"/>
<circle cx="467.3" cy="1321.0" r="6.4" fill="#3b4cc0"/>
<circle cx="467.3" cy="1324.0" r="6.4" fill="#4f69d9"/>
<circle cx="467.3" cy="1327.5" r="6.4" fill="#6485ec"/>
<circle cx="467.3" cy="1331.0" r="6.4" fill="#7b9ff9"/>
<circle cx="467.3" cy="1334.0" r="6.4" fill="#93b5fe"/>
<circle cx="467.3" cy="1337.5" r="6.4" fill="#aac7fd"/>
<circle cx="467.3" cy="1340.5" r="6.4" fill="#c0d4f5"/>
<circle cx="467.3" cy="1350.4" r="6.4" fill="#e27e62"/>
<circle cx="467.3" cy="1356.0" r="6.4" fill="#d9624d"/>
<circle cx="467.3" cy="1345.0" r="6.4" fill="#cc403a"/>
<circle cx="467.3" cy="1309.8" r="6.4" fill="#b6182a"/>
<circle cx="500.4" cy="1307.0" r="6.4" fill="#3b4cc0"/>
<circle cx="500.4" cy="1311.0" r="6.4" fill="#4f69d9"/>
<circle cx="500.4" cy="1314.5" r="6.4" fill="#6485ec"/>
<circle cx="500.4" cy="1318.0" r="6.4" fill="#7b9ff9"/>
<circle cx="500.4" cy="1320.5" r="6.4" fill="#93b5fe"/>
<circle cx="500.4" cy="1330.0" r="6.4" fill="#aac7fd"/>
<circle cx="500.4" cy="1333.5" r="6.4" fill="#c0d4f5"/>
<circle cx="500.4" cy="1336.0" r="6.4" fill="#d4dbe6"/>
<circle cx="500.4" cy="1339.0" r="6.4" fill="#e0d3cb"/>
<circle cx="500.4" cy="1341.5" r="6.4" fill="#e5c1ae"/>
<circle cx="500.4" cy="1344.0" r="6.4" fill="#ebaf94"/>
<circle cx="500.4" cy="1346.5" r="6.4" fill="#e9987b"/>
<circle cx="500.4" cy="1363.0" r="6.4" fill="#e27e62"/>
<circle cx="500.4" cy="1355.0" r="6.4" fill="#cc403a"/>
<circle cx="500.4" cy="1324.5" r="6.4" fill="#b6182a"/>
<circle cx="533.6" cy="1288.5" r="6.4" fill="#3b4cc0"/>
<circle cx="533.6" cy="1293.0" r="6.4" fill="#4f69d9"/>
<circle cx="533.6" cy="1298.0" r="6.4" fill="#6485ec"/>
<circle cx="533.6" cy="1302.0" r="6.4" fill="#7b9ff9"/>
<circle cx="533.6" cy="1306.0" r="6.4" fill="#93b5fe"/>
<circle cx="533.6" cy="1311.0" r="6.4" fill="#aac7fd"/>
<circle cx="533.6" cy="1315.5" r="6.4" fill="#c0d4f5"/>
<circle cx="533.6" cy="1320.0" r="6.4" fill="#d4dbe6"/>
<circle cx="533.6" cy="1324.0" r="6.4" fill="#e0d3cb"/>
<circle cx="533.6" cy="1342.0" r="6.4" fill="#e5c1ae"/>
<circle cx="533.6" cy="1349.0" r="6.4" fill="#ebaf94"/>
<circle cx="533.6" cy="1355.0" r="6.4" fill="#e9987b"/>
<circle cx="533.6" cy="1366.0" r="6.4" fill="#e27e62"/>
<circle cx="533.6" cy="1360.5" r="6.4" fill="#cc403a"/>
<circle cx="533.6" cy="1334.5" r="6.4" fill="#b6182a"/>
<circle cx="566.8" cy="1268.3" r="6.4" fill="#3b4cc0"/>
<circle cx="566.8" cy="1272.4" r="6.4" fill="#4f69d9"/>
<circle cx="566.8" cy="1277.8" r="6.4" fill="#6485ec"/>
<circle cx="566.8" cy="1284.6" r="6.4" fill="#7b9ff9"/>
<circle cx="566.8" cy="1292.1" r="6.4" fill="#93b5fe"/>
<circle cx="566.8" cy="1298.2" r="6.4" fill="#aac7fd"/>
<circle cx="566.8" cy="1304.3" r="6.4" fill="#c0d4f5"/>
<circle cx="566.8" cy="1311.1" r="6.4" fill="#d4dbe6"/>
<circle cx="566.8" cy="1317.9" r="6.4" fill="#e0d3cb"/>
<circle cx="566.8" cy="1325.1" r="6.4" fill="#e5c1ae"/>
<circle cx="566.8" cy="1332.2" r="6.4" fill="#ebaf94"/>
<circle cx="566.8" cy="1345.0" r="6.4" fill="#e9987b"/>
<circle cx="566.8" cy="1353.2" r="6.4" fill="#e27e62"/>
<circle cx="566.8" cy="1362.7" r="6.4" fill="#cc403a"/>
<circle cx="566.8" cy="1340.3" r="6.4" fill="#b6182a"/>
<circle cx="599.9" cy="1246.6" r="6.4" fill="#3b4cc0"/>
<circle cx="599.9" cy="1251.3" r="6.4" fill="#4f69d9"/>
<circle cx="599.9" cy="1258.1" r="6.4" fill="#6485ec"/>
<circle cx="599.9" cy="1265.6" r="6.4" fill="#7b9ff9"/>
<circle cx="599.9" cy="1273.1" r="6.4" fill="#93b5fe"/>
<circle cx="599.9" cy="1280.5" r="6.4" fill="#aac7fd"/>
<circle cx="599.9" cy="1288.0" r="6.4" fill="#c0d4f5"/>
<circle cx="599.9" cy="1295.5" r="6.4" fill="#d4dbe6"/>
<circle cx="599.9" cy="1303.6" r="6.4" fill="#e0d3cb"/>
<circle cx="599.9" cy="1311.8" r="6.4" fill="#e5c1ae"/>
<circle cx="599.9" cy="1322.0" r="6.4" fill="#ebaf94"/>
<circle cx="599.9" cy="1332.9" r="6.4" fill="#e9987b"/>
<circle cx="599.9" cy="1347.1" r="6.4" fill="#e27e62"/>
<circle cx="599.9" cy="1358.7" r="6.4" fill="#cc403a"/>
<circle cx="599.9" cy="1342.4" r="6.4" fill="#b6182a"/>
<circle cx="633.1" cy="1224.2" r="6.4" fill="#3b4cc0"/>
<circle cx="633.1" cy="1228.9" r="6.4" fill="#4f69d9"/>
<circle cx="633.1" cy="1236.4" r="6.4" fill="#6485ec"/>
<circle cx="633.1" cy="1244.5" r="6.4" fill="#7b9ff9"/>
<circle cx="633.1" cy="1253.4" r="6.4" fill="#93b5fe"/>
<circle cx="633.1" cy="1261.5" r="6.4" fill="#aac7fd"/>
<circle cx="633.1" cy="1269.7" r="6.4" fill="#c0d4f5"/>
<circle cx="633.1" cy="1277.8" r="6.4" fill="#d4dbe6"/>
<circle cx="633.1" cy="1286.7" r="6.4" fill="#e0d3cb"/>
<circle cx="633.1" cy="1296.8" r="6.4" fill="#e5c1ae"/>
<circle cx="633.1" cy="1308.4" r="6.4" fill="#ebaf94"/>
<circle cx="633.1" cy="1322.0" r="6.4" fill="#e9987b"/>
<circle cx="633.1" cy="1334.9" r="6.4" fill="#e27e62"/>
<circle cx="633.1" cy="1349.2" r="6.4" fill="#d9624d"/>
<circle cx="633.1" cy="1355.3" r="6.4" fill="#cc403a"/>
<circle cx="633.1" cy="1341.0" r="6.4" fill="#b6182a"/>
<circle cx="666.3" cy="1199.0" r="6.4" fill="#3b4cc0"/>
<circle cx="666.3" cy="1204.9" r="6.4" fill="#4f69d9"/>
<circle cx="666.3" cy="1213.4" r="6.4" fill="#6485ec"/>
<circle cx="666.3" cy="1221.9" r="6.4" fill="#7b9ff9"/>
<circle cx="666.3" cy="1231.2" r="6.4" fill="#93b5fe"/>
<circle cx="666.3" cy="1239.7" r="6.4" fill="#aac7fd"/>
<circle cx="666.3" cy="1249.0" r="6.4" fill="#c0d4f5"/>
<circle cx="666.3" cy="1258.4" r="6.4" fill="#d4dbe6"/>
<circle cx="666.3" cy="1268.6" r="6.4" fill="#e0d3cb"/>
<circle cx="666.3" cy="1279.9" r="6.4" fill="#e5c1ae"/>
<circle cx="666.3" cy="1293.2" r="6.4" fill="#ebaf94"/>
<circle cx="666.3" cy="1308.1" r="6.4" fill="#e9987b"/>
<circle cx="666.3" cy="1324.6" r="6.4" fill="#e27e62"/>
<circle cx="666.3" cy="1340.7" r="6.4" fill="#d9624d"/>
<circle cx="666.3" cy="1348.4" r="6.4" fill="#cc403a"/>
<circle cx="666.3" cy="1336.0" r="6.4" fill="#b6182a"/>
<circle cx="699.4" cy="1173.5" r="6.4" fill="#3b4cc0"/>
<circle cx="699.4" cy="1180.3" r="6.4" fill="#4f69d9"/>
<circle cx="699.4" cy="1189.3" r="6.4" fill="#6485ec"/>
<circle cx="699.4" cy="1198.4" r="6.4" fill="#7b9ff9"/>
<circle cx="699.4" cy="1207.9" r="6.4" fill="#93b5fe"/>
<circle cx="699.4" cy="1217.6" r="6.4" fill="#aac7fd"/>
<circle cx="699.4" cy="1227.3" r="6.4" fill="#c0d4f5"/>
<circle cx="699.4" cy="1237.1" r="6.4" fill="#d4dbe6"/>
<circle cx="699.4" cy="1248.7" r="6.4" fill="#e0d3cb"/>
<circle cx="699.4" cy="1261.4" r="6.4" fill="#e5c1ae"/>
<circle cx="699.4" cy="1275.9" r="6.4" fill="#ebaf94"/>
<circle cx="699.4" cy="1292.8" r="6.4" fill="#e9987b"/>
<circle cx="699.4" cy="1311.0" r="6.4" fill="#e27e62"/>
<circle cx="699.4" cy="1338.7" r="6.4" fill="#cc403a"/>
<circle cx="699.4" cy="1328.8" r="6.4" fill="#b6182a"/>
<circle cx="732.6" cy="1146.3" r="6.4" fill="#3b4cc0"/>
<circle cx="732.6" cy="1154.8" r="6.4" fill="#4f69d9"/>
<circle cx="732.6" cy="1164.5" r="6.4" fill="#6485ec"/>
<circle cx="732.6" cy="1174.3" r="6.4" fill="#7b9ff9"/>
<circle cx="732.6" cy="1184.2" r="6.4" fill="#93b5fe"/>
<circle cx="732.6" cy="1194.2" r="6.4" fill="#aac7fd"/>
<circle cx="732.6" cy="1204.4" r="6.4" fill="#c0d4f5"/>
<circle cx="732.6" cy="1215.4" r="6.4" fill="#d4dbe6"/>
<circle cx="732.6" cy="1227.5" r="6.4" fill="#e0d3cb"/>
<circle cx="732.6" cy="1241.4" r="6.4" fill="#e5c1ae"/>
<circle cx="732.6" cy="1257.2" r="6.4" fill="#ebaf94"/>
<circle cx="732.6" cy="1275.7" r="6.4" fill="#e9987b"/>
<circle cx="732.6" cy="1295.7" r="6.4" fill="#e27e62"/>
<circle cx="732.6" cy="1313.6" r="6.4" fill="#d9624d"/>
<circle cx="732.6" cy="1326.3" r="6.4" fill="#cc403a"/>
<circle cx="732.6" cy="1320.3" r="6.4" fill="#b6182a"/>
<circle cx="765.8" cy="1119.4" r="6.4" fill="#3b4cc0"/>
<circle cx="765.8" cy="1128.5" r="6.4" fill="#4f69d9"/>
<circle cx="765.8" cy="1138.8" r="6.4" fill="#6485ec"/>
<circle cx="765.8" cy="1148.9" r="6.4" fill="#7b9ff9"/>
<circle cx="765.8" cy="1158.9" r="6.4" fill="#93b5fe"/>
<circle cx="765.8" cy="1169.4" r="6.4" fill="#aac7fd"/>
<circle cx="765.8" cy="1180.4" r="6.4" fill="#c0d4f5"/>
<circle cx="765.8" cy="1192.0" r="6.4" fill="#d4dbe6"/>
<circle cx="765.8" cy="1205.5" r="6.4" fill="#e0d3cb"/>
<circle cx="765.8" cy="1220.5" r="6.4" fill="#e5c1ae"/>
<circle cx="765.8" cy="1237.8" r="6.4" fill="#ebaf94"/>
<circle cx="765.8" cy="1257.2" r="6.4" fill="#e9987b"/>
<circle cx="765.8" cy="1278.1" r="6.4" fill="#e27e62"/>
<circle cx="765.8" cy="1299.0" r="6.4" fill="#d9624d"/>
<circle cx="765.8" cy="1315.2" r="6.4" fill="#cc403a"/>
<circle cx="765.8" cy="1309.5" r="6.4" fill="#b6182a"/>
<circle cx="798.9" cy="1093.3" r="6.4" fill="#3b4cc0"/>
<circle cx="798.9" cy="1103.2" r="6.4" fill="#4f69d9"/>
<circle cx="798.9" cy="1114.3" r="6.4" fill="#6485ec"/>
<circle cx="798.9" cy="1124.1" r="6.4" fill="#7b9ff9"/>
<circle cx="798.9" cy="1134.2" r="6.4" fill="#93b5fe"/>
<circle cx="798.9" cy="1145.1" r="6.4" fill="#aac7fd"/>
<circle cx="798.9" cy="1156.5" r="6.4" fill="#c0d4f5"/>
<circle cx="798.9" cy="1169.2" r="6.4" fill="#d4dbe6"/>
<circle cx="798.9" cy="1183.1" r="6.4" fill="#e0d3cb"/>
<circle cx="798.9" cy="1199.2" r="6.4" fill="#e5c1ae"/>
<circle cx="798.9" cy="1217.3" r="6.4" fill="#ebaf94"/>
<circle cx="798.9" cy="1238.2" r="6.4" fill="#e9987b"/>
<circle cx="798.9" cy="1260.6" r="6.4" fill="#e27e62"/>
<circle cx="798.9" cy="1283.5" r="6.4" fill="#d9624d"/>
<circle cx="798.9" cy="1301.9" r="6.4" fill="#cc403a"/>
<circle cx="798.9" cy="1298.1" r="6.4" fill="#b6182a"/>
<circle cx="832.1" cy="1067.5" r="6.4" fill="#3b4cc0"/>
<circle cx="832.1" cy="1077.2" r="6.4" fill="#4f69d9"/>
<circle cx="832.1" cy="1089.0" r="6.4" fill="#6485ec"/>
<circle cx="832.1" cy="1099.4" r="6.4" fill="#7b9ff9"/>
<circle cx="832.1" cy="1109.9" r="6.4" fill="#93b5fe"/>
<circle cx="832.1" cy="1120.7" r="6.4" fill="#aac7fd"/>
<circle cx="832.1" cy="1132.7" r="6.4" fill="#c0d4f5"/>
<circle cx="832.1" cy="1146.0" r="6.4" fill="#d4dbe6"/>
<circle cx="832.1" cy="1161.2" r="6.4" fill="#e0d3cb"/>
<circle cx="832.1" cy="1178.3" r="6.4" fill="#e5c1ae"/>
<circle cx="832.1" cy="1197.3" r="6.4" fill="#ebaf94"/>
<circle cx="832.1" cy="1218.8" r="6.4" fill="#e9987b"/>
<circle cx="832.1" cy="1242.6" r="6.4" fill="#e27e62"/>
<circle cx="832.1" cy="1266.7" r="6.4" fill="#d9624d"/>
<circle cx="832.1" cy="1287.6" r="6.4" fill="#cc403a"/>
<circle cx="832.1" cy="1284.8" r="6.4" fill="#b6182a"/>
<polyline points="145.4,1097.5 189.7,1205.6 234.2,1276.2 278.5,1317.5 322.8,1340.0 367.1,1350.4 411.4,1352.5 455.7,1354.2 500.0,1362.8 544.3,1364.4 588.6,1361.4 632.9,1354.8 677.2,1345.5 721.5,1332.0 765.8,1313.6 810.1,1294.5 854.4,1279.0" fill="none" stroke="#000" stroke-width="3.8" stroke-linejoin="round" stroke-linecap="butt"/>
</g>
<rect x="162.9" y="758.8" width="679.4" height="633.9000000000001" fill="none" stroke="#000" stroke-width="3.6" stroke-linejoin="miter"/>
<line x1="156.4" y1="758.8" x2="162.9" y2="758.8" stroke="#000" stroke-width="3.6"/>
<text x="149.0" y="768.1" font-size="27.8" text-anchor="end" textLength="108.4" lengthAdjust="spacingAndGlyphs">−3407.5</text>
<line x1="156.4" y1="896.8" x2="162.9" y2="896.8" stroke="#000" stroke-width="3.6"/>
<text x="149.0" y="906.1" font-size="27.8" text-anchor="end" textLength="108.4" lengthAdjust="spacingAndGlyphs">−3408.0</text>
<line x1="156.4" y1="1034.9" x2="162.9" y2="1034.9" stroke="#000" stroke-width="3.6"/>
<text x="149.0" y="1044.2" font-size="27.8" text-anchor="end" textLength="108.4" lengthAdjust="spacingAndGlyphs">−3408.5</text>
<line x1="156.4" y1="1173.0" x2="162.9" y2="1173.0" stroke="#000" stroke-width="3.6"/>
<text x="149.0" y="1182.3" font-size="27.8" text-anchor="end" textLength="108.4" lengthAdjust="spacingAndGlyphs">−3409.0</text>
<line x1="156.4" y1="1311.0" x2="162.9" y2="1311.0" stroke="#000" stroke-width="3.6"/>
<text x="149.0" y="1320.3" font-size="27.8" text-anchor="end" textLength="108.4" lengthAdjust="spacingAndGlyphs">−3409.5</text>
<line x1="162.9" y1="1392.7" x2="162.9" y2="1399.2" stroke="#000" stroke-width="3.6"/>
<text x="162.9" y="1425.0" font-size="27.8" text-anchor="middle" textLength="17" lengthAdjust="spacingAndGlyphs">8</text>
<line x1="253.5" y1="1392.7" x2="253.5" y2="1399.2" stroke="#000" stroke-width="3.6"/>
<text x="253.5" y="1425.0" font-size="27.8" text-anchor="middle" textLength="17" lengthAdjust="spacingAndGlyphs">9</text>
<line x1="344.1" y1="1392.7" x2="344.1" y2="1399.2" stroke="#000" stroke-width="3.6"/>
<text x="344.1" y="1425.0" font-size="27.8" text-anchor="middle" textLength="32" lengthAdjust="spacingAndGlyphs">10</text>
<line x1="434.7" y1="1392.7" x2="434.7" y2="1399.2" stroke="#000" stroke-width="3.6"/>
<text x="434.7" y="1425.0" font-size="27.8" text-anchor="middle" textLength="32" lengthAdjust="spacingAndGlyphs">11</text>
<line x1="525.3" y1="1392.7" x2="525.3" y2="1399.2" stroke="#000" stroke-width="3.6"/>
<text x="525.3" y="1425.0" font-size="27.8" text-anchor="middle" textLength="32" lengthAdjust="spacingAndGlyphs">12</text>
<line x1="615.9" y1="1392.7" x2="615.9" y2="1399.2" stroke="#000" stroke-width="3.6"/>
<text x="615.9" y="1425.0" font-size="27.8" text-anchor="middle" textLength="32" lengthAdjust="spacingAndGlyphs">13</text>
<line x1="706.5" y1="1392.7" x2="706.5" y2="1399.2" stroke="#000" stroke-width="3.6"/>
<text x="706.5" y="1425.0" font-size="27.8" text-anchor="middle" textLength="32" lengthAdjust="spacingAndGlyphs">14</text>
<line x1="797.1" y1="1392.7" x2="797.1" y2="1399.2" stroke="#000" stroke-width="3.6"/>
<text x="797.1" y="1425.0" font-size="27.8" text-anchor="middle" textLength="32" lengthAdjust="spacingAndGlyphs">15</text>
<text x="373.5" y="1463.5" font-size="32" textLength="260.5" lengthAdjust="spacingAndGlyphs">Volume (Å<tspan font-size="22" dy="-12">3</tspan><tspan dy="12">/atom)</tspan></text>
<text transform="translate(26.9,1205.8) rotate(-90)" x="0" y="0" font-size="32" textLength="260.0" lengthAdjust="spacingAndGlyphs">Energy (eV/atom)</text>
<text x="633.5" y="816" font-size="34.5" textLength="177.5" lengthAdjust="spacingAndGlyphs">(b) FCC-FM</text>
<rect x="885.2" y="759.2" width="31.5" height="632.8" fill="url(#cw)" stroke="#111" stroke-width="1.6"/>
<line x1="916.7" y1="779.9" x2="922.7" y2="779.9" stroke="#111" stroke-width="1.6"/>
<text x="929.2" y="786.4" font-size="19.4" textLength="29" lengthAdjust="spacingAndGlyphs">3.0</text>
<line x1="916.7" y1="885.6" x2="922.7" y2="885.6" stroke="#111" stroke-width="1.6"/>
<text x="929.2" y="892.1" font-size="19.4" textLength="29" lengthAdjust="spacingAndGlyphs">2.5</text>
<line x1="916.7" y1="991.3" x2="922.7" y2="991.3" stroke="#111" stroke-width="1.6"/>
<text x="929.2" y="997.8" font-size="19.4" textLength="29" lengthAdjust="spacingAndGlyphs">2.0</text>
<line x1="916.7" y1="1097.0" x2="922.7" y2="1097.0" stroke="#111" stroke-width="1.6"/>
<text x="929.2" y="1103.5" font-size="19.4" textLength="29" lengthAdjust="spacingAndGlyphs">1.5</text>
<line x1="916.7" y1="1202.7" x2="922.7" y2="1202.7" stroke="#111" stroke-width="1.6"/>
<text x="929.2" y="1209.2" font-size="19.4" textLength="29" lengthAdjust="spacingAndGlyphs">1.0</text>
<line x1="916.7" y1="1308.4" x2="922.7" y2="1308.4" stroke="#111" stroke-width="1.6"/>
<text x="929.2" y="1314.9" font-size="19.4" textLength="29" lengthAdjust="spacingAndGlyphs">0.5</text>
<text transform="translate(990.8,551.3) rotate(-90)" font-size="33.2" textLength="380.9" lengthAdjust="spacingAndGlyphs">Atomic Magnetic moment</text>
<text transform="translate(990.8,159.5) rotate(-90)" font-size="33.2">(<tspan font-style="italic">μ</tspan><tspan font-style="italic" font-size="23" dy="5">B</tspan><tspan dy="-5">)</tspan></text>
<text transform="translate(988.8,1298.1999999999998) rotate(-90)" font-size="33.2" textLength="380.9" lengthAdjust="spacingAndGlyphs">Atomic Magnetic moment</text>
<text transform="translate(988.8,906.4) rotate(-90)" font-size="33.2">(<tspan font-style="italic">μ</tspan><tspan font-style="italic" font-size="23" dy="5">B</tspan><tspan dy="-5">)</tspan></text>
</svg></body></html>
